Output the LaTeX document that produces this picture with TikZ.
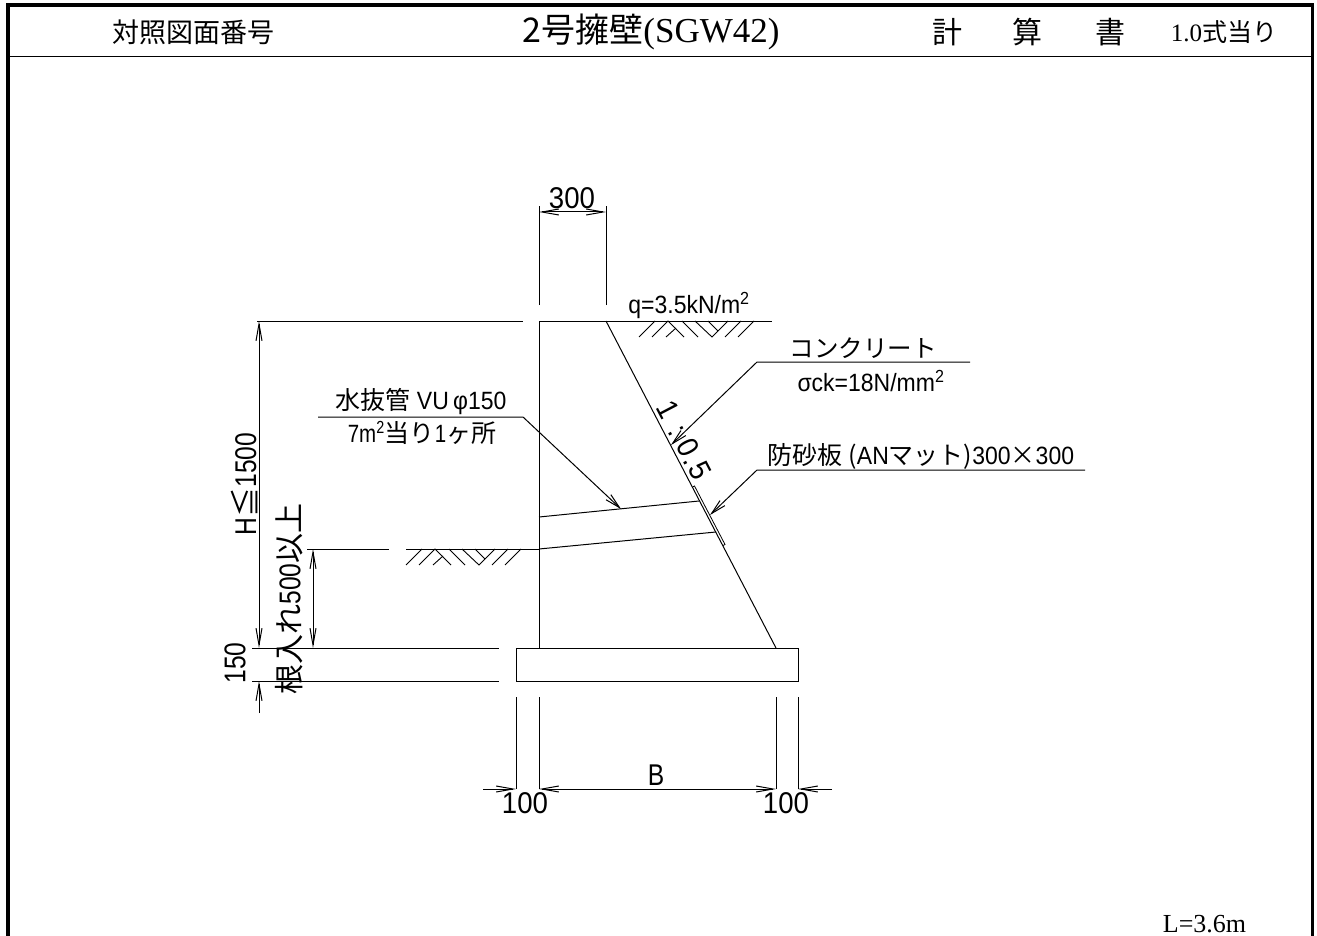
\documentclass[tikz,border=0pt]{standalone}
\usepackage{fontspec}
\setmainfont{Liberation Sans}
\newfontfamily\cadfont[FakeStretch=0.82]{Liberation Sans}
\newfontfamily\cadwidefont[FakeStretch=0.92]{Liberation Sans}
\newfontfamily\jpfont{Noto Sans CJK JP}
\newfontfamily\hdfont{Liberation Serif}
\usetikzlibrary{arrows.meta}
\tikzset{
    thin line/.style={line width=1pt},
    frame line/.style={line width=3.5pt},
    dim arrow/.style={line width=1pt,{Straight Barb[length=17pt,width=6pt]}-{Straight Barb[length=17pt,width=6pt]}},
    lead arrow/.style={line width=1pt,-{Straight Barb[length=15pt,width=7pt]}},
    cad/.style={inner sep=0pt,font=\cadfont\fontsize{30}{30}\selectfont},
    cadwide/.style={inner sep=0pt,font=\cadwidefont\fontsize{30}{30}\selectfont},
    cadsmall/.style={inner sep=0pt,font=\cadfont\fontsize{25}{25}\selectfont},
    cadsmallwide/.style={inner sep=0pt,font=\cadwidefont\fontsize{25}{25}\selectfont},
    jp/.style={inner sep=0pt,font=\jpfont\fontsize{24.5}{24.5}\selectfont},
    head/.style={inner sep=0pt,font=\jpfont\fontsize{#1}{#1}\selectfont},
}
\begin{document}
\begin{tikzpicture}[x=1pt,y=-1pt]
        \useasboundingbox (0,0) rectangle (1317,936);

        % Sheet frame and title row
        \draw[frame line] (8,936) -- (8,5) -- (1312.5,5) -- (1312.5,936);
        \draw[thin line] (8,57) -- (1312.5,57);
        \node[head=27] (sheetno) at (193,32) {対照図面番号};
        \node[head=34] (sheettitle) at (651,32) {2号擁壁{\hdfont\fontsize{35}{35}\selectfont (SGW42)}};
        \node[head=30] (calcA) at (947,32) {計};
        \node[head=30] (calcB) at (1027,32) {算};
        \node[head=30] (calcC) at (1110,32) {書};
        \node[head=25] (perunit) at (1224,32) {{\hdfont 1.0}式当り};
        \node[inner sep=0pt,font=\hdfont\fontsize{26}{26}\selectfont] (length) at (1204.5,924) {L=3.6m};

        % Wall body, footing and ground
        \draw[thin line] (539,321) -- (539,648);
        \draw[thin line] (606,321) -- (776,648);
        \draw[thin line] (539,321) -- (772,321);
        \draw[thin line] (257,321) -- (523,321);
        \draw[thin line] (516,648) rectangle (798,681);
        \draw[thin line] (252,648) -- (499,648);
        \draw[thin line] (252,681) -- (499,681);
        \draw[thin line] (307,549) -- (389,549);
        \draw[thin line] (406,549) -- (539,549);

        % Drain pipe and sand plate
        \draw[thin line] (539,517) -- (699,501);
        \draw[thin line] (539,549) -- (716,532);
        \draw[line width=0.8pt] (692.5,487) -- (694.5,486) -- (725,544.5) -- (723,545.5);

        % Hatching under both ground lines
        \foreach \xo/\yo in {0/0,-233/228} {
            \begin{scope}[shift={(\xo,\yo)},line width=0.9pt]
                \draw (639,337) -- (655,321);
                \draw (652,337) -- (668,321) -- (684,337);
                \draw (666,337) -- (676,328);
                \draw (682,321) -- (698,337);
                \draw (695,321) -- (712,337) -- (728,321);
                \draw (708,321) -- (718,331);
                \draw (725,337) -- (741,321);
                \draw (738,337) -- (754,321);
            \end{scope}
        }

        % Extension lines
        \foreach \x in {539,606} {
            \draw[thin line] (\x,305) -- (\x,206);
        }
        \foreach \x in {516,539,776,798} {
            \draw[thin line] (\x,697) -- (\x,789);
        }

        % Dimension end points
        \coordinate (topL) at (539,212);
        \coordinate (topR) at (606,212);
        \coordinate (heightT) at (259,321);
        \coordinate (heightB) at (259,648);
        \coordinate (embedT) at (313,549);
        \coordinate (embedB) at (313,648);
        \coordinate (baseL) at (539,789);
        \coordinate (baseR) at (776,789);

        \draw[dim arrow] (topL) -- (topR);
        \draw[dim arrow] (heightT) -- (heightB);
        \draw[dim arrow] (embedT) -- (embedB);
        \draw[dim arrow] (baseL) -- (baseR);

        % Outside arrows for footing sizes
        \coordinate (footBot) at (259,681);
        \coordinate (footEnd) at (259,713);
        \coordinate (toeL) at (516,789);
        \coordinate (toeLEnd) at (483,789);
        \coordinate (toeR) at (798,789);
        \coordinate (toeREnd) at (832,789);
        \draw[lead arrow,-{Straight Barb[length=17pt,width=6pt]}] (footEnd) -- (footBot);
        \draw[lead arrow,-{Straight Barb[length=17pt,width=6pt]}] (toeLEnd) -- (toeL);
        \draw[lead arrow,-{Straight Barb[length=17pt,width=6pt]}] (toeREnd) -- (toeR);

        % Leaders
        \coordinate (concA) at (970,362);
        \coordinate (concB) at (757,362);
        \coordinate (concC) at (671,445);
        \coordinate (plateA) at (1085,470);
        \coordinate (plateB) at (757,470);
        \coordinate (plateC) at (710,515);
        \coordinate (pipeA) at (318,417);
        \coordinate (pipeB) at (523,417);
        \coordinate (pipeC) at (621,509);
        \draw[lead arrow] (concA) -- (concB) -- (concC);
        \draw[lead arrow] (plateA) -- (plateB) -- (plateC);
        \draw[lead arrow] (pipeA) -- (pipeB) -- (pipeC);

        % Labels
        \node[cadwide] (topdim) at (572,198) {300};
        \node[cadsmallwide] (load) at (689,305) {q=3.5kN/m\textsuperscript{2}};
        \node[jp] (concname) at (863,348) {コンクリート};
        \node[cadsmallwide] (concstrength) at (871,381) {σck=18N/mm\textsuperscript{2}};
        \node[cadsmallwide] (platename) at (921,456) {{\jpfont 防砂板 (}AN{\jpfont マット)}300{\jpfont ×}300};
        \node[cadsmallwide] (pipename) at (421,402) {{\jpfont 水抜管} VU\,φ150};
        \node[cadsmall] (pipepitch) at (422,433) {7m\textsuperscript{2}{\jpfont 当り}1{\jpfont ヶ所}};
        \node[cad,rotate=90] (height) at (244,484) {H{\jpfont ≦}1500};
        \node[cad,rotate=90] (embed) at (289,599) {{\jpfont 根入れ}500{\jpfont 以上}};
        \node[cad,rotate=90] (footing) at (235,663) {150};
        \node[cad] (base) at (656,775) {B};
        \node[cadwide] (toeleft) at (525,803) {100};
        \node[cadwide] (toeright) at (786,803) {100};
        \node[cadwide,rotate=-62.5] (slope) at (684,440) {1\hspace{11pt}:\hspace{9pt}0\hspace{1pt}.\hspace{1pt}5};
    \end{tikzpicture}
\end{document}
